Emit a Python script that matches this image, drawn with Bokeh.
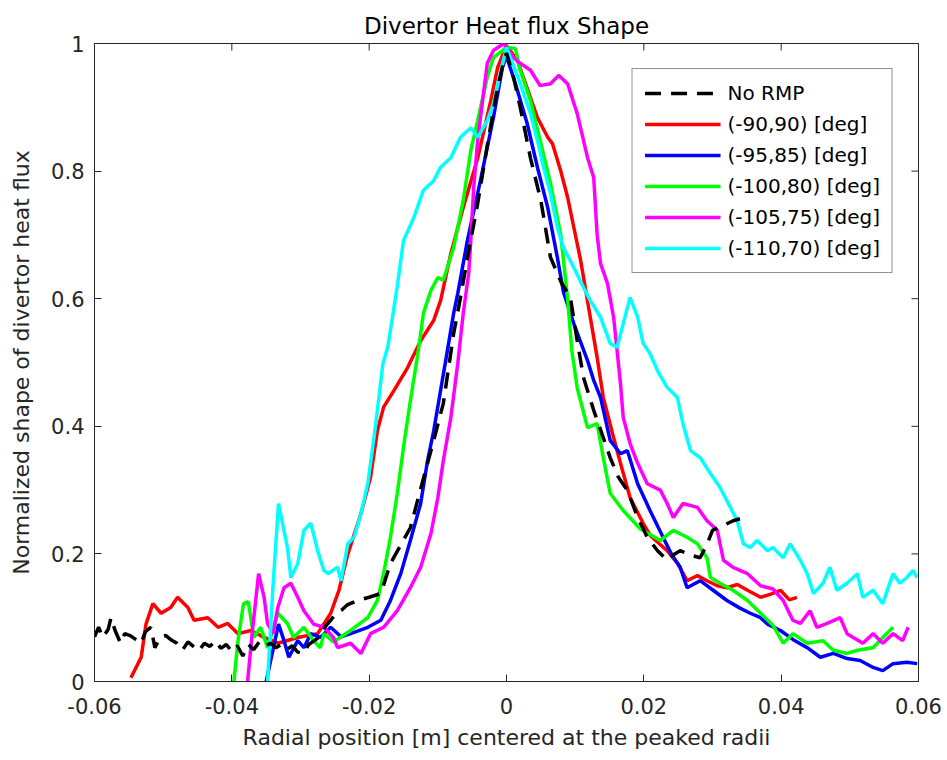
import math
from bokeh.plotting import figure
from bokeh.models import Range1d, FixedTicker, Legend, LegendItem
from bokeh.embed import file_html
from bokeh.resources import INLINE

title_text = "Divertor Heat flux Shape"
x_label = "Radial position [m] centered at the peaked radii"
y_label = "Normalized shape of divertor heat flux"

x_ticks = [-0.06, -0.04, -0.02, 0.0, 0.02, 0.04, 0.06]
x_tick_labels = ["-0.06", "-0.04", "-0.02", "0", "0.02", "0.04", "0.06"]
y_ticks = [0.0, 0.2, 0.4, 0.6, 0.8, 1.0]
y_tick_labels = ["0", "0.2", "0.4", "0.6", "0.8", "1"]

series_names = ["No RMP", "(-90,90) [deg]", "(-95,85) [deg]", "(-100,80) [deg]",
                "(-105,75) [deg]", "(-110,70) [deg]"]

x_norm = [-0.0600, -0.0594, -0.0588, -0.0580, -0.0576, -0.0570, -0.0562, -0.0556, -0.0548, -0.0540,
          -0.0532, -0.0526, -0.0518, -0.0512, -0.0504, -0.0496, -0.0488, -0.0480, -0.0472, -0.0464,
          -0.0456, -0.0448, -0.0440, -0.0432, -0.0424, -0.0416, -0.0408, -0.0400, -0.0392, -0.0384,
          -0.0376, -0.0368, -0.0360, -0.0352, -0.0344, -0.0336, -0.0328, -0.0320, -0.0312, -0.0304,
          -0.0296, -0.0288, -0.0280, -0.0272, -0.0264, -0.0256, -0.0248, -0.0240, -0.0232, -0.0217,
          -0.0200, -0.0183, -0.0169, -0.0155, -0.0140, -0.0123, -0.0106, -0.0092, -0.0077, -0.0067,
          -0.0055, -0.0042, -0.0028, -0.0015, -0.0004, 0.0000, 0.0009, 0.0020, 0.0035, 0.0050,
          0.0064, 0.0080, 0.0093, 0.0103, 0.0112, 0.0127, 0.0140, 0.0151, 0.0163, 0.0176,
          0.0190, 0.0205, 0.0220, 0.0234, 0.0245, 0.0253, 0.0268, 0.0282, 0.0292, 0.0300,
          0.0315, 0.0330, 0.0340]
y_norm = [0.070, 0.085, 0.069, 0.082, 0.100, 0.080, 0.060, 0.075, 0.072, 0.066,
          0.060, 0.078, 0.085, 0.053, 0.070, 0.072, 0.065, 0.060, 0.049, 0.062,
          0.055, 0.048, 0.060, 0.055, 0.064, 0.052, 0.058, 0.047, 0.056, 0.040,
          0.058, 0.050, 0.062, 0.055, 0.060, 0.053, 0.058, 0.050, 0.056, 0.046,
          0.044, 0.058, 0.064, 0.070, 0.086, 0.096, 0.107, 0.112, 0.120, 0.127,
          0.132, 0.138, 0.185, 0.212, 0.241, 0.310, 0.378, 0.436, 0.545, 0.602,
          0.675, 0.749, 0.840, 0.920, 0.973, 0.985, 0.953, 0.900, 0.820, 0.754,
          0.665, 0.625, 0.602, 0.534, 0.477, 0.425, 0.385, 0.351, 0.320, 0.300,
          0.260, 0.226, 0.205, 0.190, 0.200, 0.205, 0.198, 0.194, 0.215, 0.237,
          0.244, 0.252, 0.255]

x_90 = [-0.0547, -0.0532, -0.0525, -0.0515, -0.0503, -0.0489, -0.0479, -0.0464, -0.0455, -0.0435,
        -0.0420, -0.0406, -0.0391, -0.0372, -0.0353, -0.0333, -0.0304, -0.0275, -0.0256, -0.0244,
        -0.0231, -0.0212, -0.0198, -0.0188, -0.0179, -0.0164, -0.0144, -0.0125, -0.0106, -0.0096,
        -0.0081, -0.0063, -0.0042, -0.0023, -0.0013, 0.0000, 0.0016, 0.0030, 0.0045, 0.0060,
        0.0067, 0.0079, 0.0089, 0.0098, 0.0108, 0.0122, 0.0132, 0.0141, 0.0156, 0.0166,
        0.0180, 0.0199, 0.0210, 0.0234, 0.0249, 0.0263, 0.0278, 0.0292, 0.0307, 0.0321,
        0.0336, 0.0351, 0.0370, 0.0385, 0.0399, 0.0412, 0.0423]
y_90 = [0.006, 0.038, 0.090, 0.122, 0.107, 0.116, 0.132, 0.116, 0.096, 0.100,
        0.085, 0.091, 0.075, 0.080, 0.069, 0.060, 0.069, 0.075, 0.107, 0.143,
        0.200, 0.263, 0.320, 0.393, 0.430, 0.456, 0.492, 0.534, 0.566, 0.597,
        0.671, 0.743, 0.820, 0.910, 0.962, 0.997, 0.973, 0.930, 0.884, 0.853,
        0.843, 0.800, 0.759, 0.712, 0.660, 0.571, 0.508, 0.445, 0.382, 0.342,
        0.288, 0.248, 0.228, 0.205, 0.185, 0.158, 0.166, 0.158, 0.150, 0.147,
        0.152, 0.143, 0.132, 0.137, 0.143, 0.128, 0.132]

x_95 = [-0.0350, -0.0340, -0.0332, -0.0324, -0.0317, -0.0304, -0.0295, -0.0285, -0.0271, -0.0256,
        -0.0241, -0.0227, -0.0202, -0.0183, -0.0169, -0.0154, -0.0140, -0.0125, -0.0115, -0.0106,
        -0.0096, -0.0086, -0.0077, -0.0071, -0.0057, -0.0038, -0.0019, -0.0006, 0.0000, 0.0013,
        0.0030, 0.0045, 0.0060, 0.0074, 0.0083, 0.0098, 0.0118, 0.0127, 0.0137, 0.0151,
        0.0166, 0.0176, 0.0191, 0.0209, 0.0228, 0.0240, 0.0253, 0.0263, 0.0282, 0.0301,
        0.0321, 0.0340, 0.0355, 0.0370, 0.0380, 0.0399, 0.0417, 0.0438, 0.0457, 0.0476,
        0.0496, 0.0515, 0.0534, 0.0548, 0.0563, 0.0583, 0.0598]
y_95 = [0.000, 0.050, 0.090, 0.064, 0.038, 0.064, 0.053, 0.075, 0.069, 0.085,
        0.070, 0.075, 0.085, 0.096, 0.127, 0.169, 0.221, 0.279, 0.346, 0.393,
        0.456, 0.519, 0.577, 0.608, 0.691, 0.785, 0.884, 0.962, 0.980, 0.937,
        0.875, 0.806, 0.743, 0.665, 0.610, 0.561, 0.503, 0.472, 0.445, 0.378,
        0.357, 0.362, 0.310, 0.268, 0.226, 0.200, 0.179, 0.147, 0.158, 0.143,
        0.127, 0.115, 0.107, 0.100, 0.090, 0.080, 0.066, 0.053, 0.038, 0.044,
        0.036, 0.033, 0.022, 0.017, 0.028, 0.030, 0.028]

x_100 = [-0.0397, -0.0391, -0.0383, -0.0376, -0.0368, -0.0358, -0.0348, -0.0333, -0.0319, -0.0310,
         -0.0295, -0.0281, -0.0271, -0.0266, -0.0252, -0.0227, -0.0202, -0.0188, -0.0179, -0.0169,
         -0.0159, -0.0150, -0.0140, -0.0129, -0.0121, -0.0110, -0.0100, -0.0092, -0.0077, -0.0063,
         -0.0052, -0.0042, -0.0028, -0.0019, 0.0000, 0.0013, 0.0020, 0.0035, 0.0049, 0.0064,
         0.0079, 0.0089, 0.0095, 0.0103, 0.0118, 0.0132, 0.0141, 0.0151, 0.0170, 0.0195,
         0.0224, 0.0243, 0.0263, 0.0278, 0.0292, 0.0297, 0.0311, 0.0330, 0.0351, 0.0370,
         0.0388, 0.0403, 0.0417, 0.0438, 0.0461, 0.0476, 0.0496, 0.0511, 0.0534, 0.0548,
         0.0563]
y_100 = [0.000, 0.064, 0.122, 0.125, 0.069, 0.085, 0.053, 0.107, 0.091, 0.069,
         0.085, 0.064, 0.053, 0.075, 0.062, 0.080, 0.100, 0.127, 0.169, 0.226,
         0.295, 0.367, 0.440, 0.514, 0.577, 0.613, 0.633, 0.629, 0.680, 0.754,
         0.832, 0.879, 0.947, 0.978, 0.994, 0.992, 0.958, 0.910, 0.848, 0.781,
         0.700, 0.600, 0.520, 0.460, 0.398, 0.404, 0.351, 0.295, 0.268, 0.239,
         0.221, 0.237, 0.226, 0.216, 0.194, 0.163, 0.154, 0.143, 0.127, 0.107,
         0.088, 0.060, 0.075, 0.060, 0.064, 0.049, 0.044, 0.049, 0.053, 0.069,
         0.085]

x_105 = [-0.0377, -0.0370, -0.0361, -0.0353, -0.0348, -0.0340, -0.0333, -0.0324, -0.0314, -0.0304,
         -0.0295, -0.0281, -0.0266, -0.0252, -0.0246, -0.0227, -0.0212, -0.0198, -0.0179, -0.0159,
         -0.0140, -0.0125, -0.0110, -0.0100, -0.0092, -0.0081, -0.0071, -0.0063, -0.0055, -0.0052,
         -0.0048, -0.0042, -0.0033, -0.0028, -0.0019, -0.0004, 0.0010, 0.0020, 0.0035, 0.0049,
         0.0064, 0.0076, 0.0089, 0.0103, 0.0118, 0.0127, 0.0132, 0.0137, 0.0147, 0.0156,
         0.0161, 0.0166, 0.0170, 0.0180, 0.0191, 0.0205, 0.0224, 0.0234, 0.0243, 0.0257,
         0.0278, 0.0292, 0.0307, 0.0316, 0.0330, 0.0351, 0.0370, 0.0388, 0.0403, 0.0417,
         0.0428, 0.0442, 0.0452, 0.0467, 0.0486, 0.0496, 0.0505, 0.0519, 0.0534, 0.0548,
         0.0563, 0.0577, 0.0585]
y_105 = [0.000, 0.080, 0.169, 0.132, 0.091, 0.075, 0.116, 0.147, 0.154, 0.132,
         0.111, 0.090, 0.085, 0.069, 0.053, 0.060, 0.044, 0.075, 0.085, 0.111,
         0.147, 0.179, 0.232, 0.288, 0.346, 0.414, 0.498, 0.577, 0.640, 0.691,
         0.770, 0.848, 0.926, 0.969, 0.989, 1.000, 0.978, 0.969, 0.958, 0.934,
         0.937, 0.950, 0.937, 0.890, 0.821, 0.790, 0.700, 0.655, 0.624, 0.571,
         0.519, 0.467, 0.414, 0.373, 0.342, 0.310, 0.300, 0.279, 0.257, 0.279,
         0.273, 0.252, 0.237, 0.190, 0.179, 0.169, 0.150, 0.145, 0.127, 0.096,
         0.091, 0.111, 0.085, 0.091, 0.100, 0.075, 0.069, 0.060, 0.075, 0.060,
         0.075, 0.064, 0.085]

x_110 = [-0.0348, -0.0340, -0.0332, -0.0319, -0.0314, -0.0304, -0.0295, -0.0285, -0.0275, -0.0266,
         -0.0260, -0.0246, -0.0241, -0.0231, -0.0222, -0.0212, -0.0202, -0.0193, -0.0188, -0.0180,
         -0.0173, -0.0166, -0.0159, -0.0150, -0.0135, -0.0121, -0.0106, -0.0096, -0.0081, -0.0067,
         -0.0052, -0.0042, -0.0028, -0.0019, -0.0009, 0.0000, 0.0009, 0.0020, 0.0035, 0.0045,
         0.0054, 0.0064, 0.0074, 0.0083, 0.0098, 0.0112, 0.0122, 0.0137, 0.0151, 0.0161,
         0.0170, 0.0180, 0.0191, 0.0199, 0.0209, 0.0220, 0.0234, 0.0249, 0.0257, 0.0268,
         0.0282, 0.0297, 0.0311, 0.0326, 0.0336, 0.0345, 0.0355, 0.0365, 0.0380, 0.0388,
         0.0403, 0.0413, 0.0428, 0.0438, 0.0447, 0.0461, 0.0471, 0.0481, 0.0496, 0.0511,
         0.0519, 0.0534, 0.0548, 0.0563, 0.0573, 0.0583, 0.0592, 0.0598]
y_110 = [0.000, 0.150, 0.279, 0.210, 0.163, 0.185, 0.237, 0.248, 0.205, 0.174,
         0.169, 0.179, 0.158, 0.216, 0.226, 0.263, 0.310, 0.382, 0.425, 0.498,
         0.524, 0.571, 0.620, 0.691, 0.727, 0.770, 0.785, 0.806, 0.821, 0.853,
         0.868, 0.853, 0.879, 0.906, 0.953, 0.994, 0.969, 0.937, 0.890, 0.848,
         0.806, 0.765, 0.712, 0.680, 0.649, 0.618, 0.597, 0.571, 0.530, 0.524,
         0.561, 0.602, 0.571, 0.530, 0.514, 0.487, 0.461, 0.445, 0.404, 0.362,
         0.351, 0.326, 0.304, 0.273, 0.252, 0.216, 0.210, 0.221, 0.205, 0.210,
         0.194, 0.216, 0.190, 0.169, 0.138, 0.154, 0.179, 0.143, 0.154, 0.169,
         0.132, 0.143, 0.122, 0.169, 0.154, 0.163, 0.174, 0.163]

colors = ["#000000", "#ff0000", "#0000ff", "#00ff00", "#ff00ff", "#00ffff"]
FONT = "DejaVu Sans"
TXT = "#262626"

p = figure(width=947, height=760, output_backend="svg", toolbar_location=None,
           x_range=Range1d(-0.06, 0.06), y_range=Range1d(0, 1),
           min_border_left=94, min_border_right=29, min_border_top=43, min_border_bottom=79)
p.title.text = title_text
p.title.align = "center"
p.title.text_font = FONT
p.title.text_font_size = "23px"
p.title.text_font_style = "normal"
p.title.text_color = "#000000"
p.title.standoff = 10
p.xgrid.visible = False
p.ygrid.visible = False
p.outline_line_color = TXT
p.outline_line_width = 1
p.background_fill_color = "white"
p.border_fill_color = "white"

p.xaxis.ticker = FixedTicker(ticks=x_ticks)
p.xaxis.major_label_overrides = dict(zip(x_ticks, x_tick_labels))
p.yaxis.ticker = FixedTicker(ticks=y_ticks)
p.yaxis.major_label_overrides = dict(zip(y_ticks, y_tick_labels))
p.xaxis.axis_label = x_label
p.yaxis.axis_label = y_label
for ax in (p.xaxis[0], p.yaxis[0]):
    ax.axis_line_color = TXT
    ax.major_tick_line_color = TXT
    ax.major_tick_in = 7
    ax.major_tick_out = 0
    ax.minor_tick_line_color = None
    ax.major_label_text_font = FONT
    ax.major_label_text_font_size = "21px"
    ax.major_label_text_color = TXT
    ax.axis_label_text_font = FONT
    ax.axis_label_text_font_size = "22px"
    ax.axis_label_text_font_style = "normal"
    ax.axis_label_text_color = TXT
p.xaxis.major_label_standoff = 16
p.xaxis.axis_label_standoff = 8
p.yaxis.major_label_standoff = 10
p.yaxis.axis_label_standoff = 14

# mirrored inward ticks on the top and right frame edges (clipped to the frame)
p.scatter(x=x_ticks, y=[1.0] * len(x_ticks), marker="dash", size=14, angle=math.pi / 2,
          line_color=TXT, line_width=1)
p.scatter(x=[0.06] * len(y_ticks), y=y_ticks, marker="dash", size=14,
          line_color=TXT, line_width=1)

xs = [x_norm, x_90, x_95, x_100, x_105, x_110]
ys = [y_norm, y_90, y_95, y_100, y_105, y_110]
renderers = [None] * 6
for i in [1, 2, 3, 4, 5, 0]:
    if i == 0:
        r = p.line(xs[i], ys[i], line_color=colors[i], line_width=3.5, line_dash="16 10")
    else:
        r = p.line(xs[i], ys[i], line_color=colors[i], line_width=3.5)
    renderers[i] = r

legend = Legend(items=[LegendItem(label=series_names[i], renderers=[renderers[i]]) for i in range(6)])
legend.location = "top_right"
legend.margin = 25
legend.padding = 12
legend.spacing = 7
legend.glyph_width = 76
legend.glyph_height = 20
legend.label_height = 20
legend.label_standoff = 7
legend.label_text_font = FONT
legend.label_text_font_size = "20px"
legend.label_text_color = "#000000"
legend.border_line_color = TXT
legend.border_line_width = 1
legend.background_fill_alpha = 1.0
p.add_layout(legend)

open("out.html", "w").write(file_html(p, INLINE))
